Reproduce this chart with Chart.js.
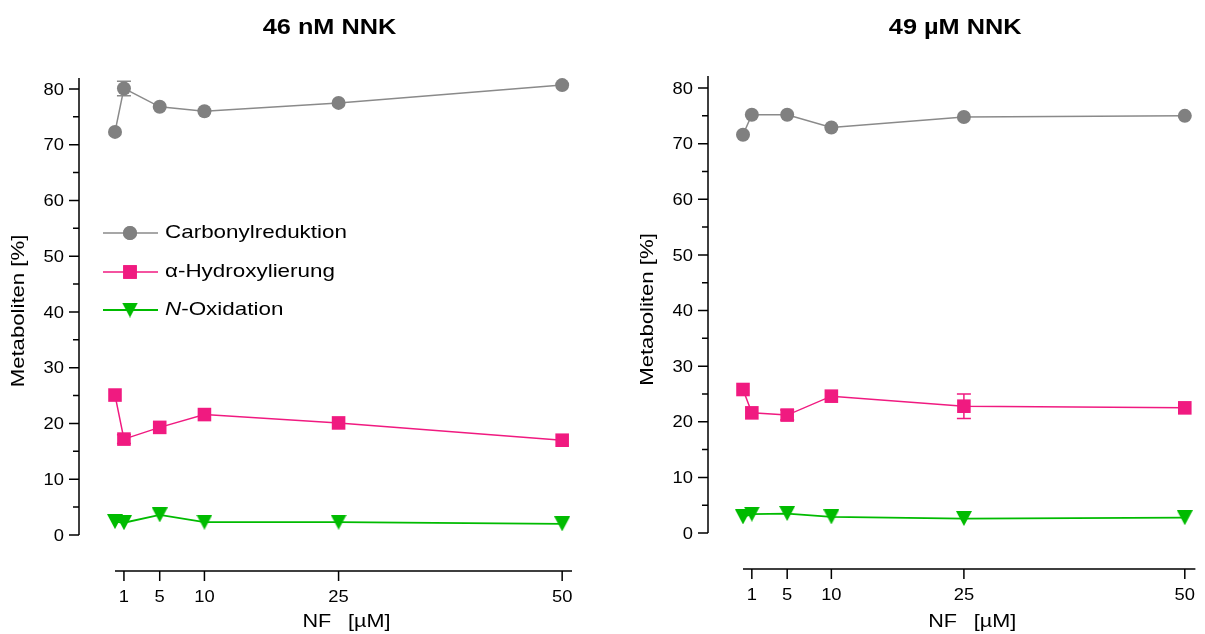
<!DOCTYPE html>
<html><head><meta charset="utf-8">
<script src="https://cdn.jsdelivr.net/npm/chart.js@4.4.1/dist/chart.umd.min.js"></script>
<style>
html,body{margin:0;padding:0;background:#fff;}
#wrap{position:relative;width:1205px;height:634px;background:#fff;}
.panel{position:absolute;top:0;height:634px;}
</style></head><body>
<div id="wrap">
<div class="panel" style="left:0;width:600px"><canvas id="c1" width="600" height="634"></canvas></div>
<div class="panel" style="left:600px;width:605px"><canvas id="c2" width="605" height="634"></canvas></div>
</div>
<script>
// ---------- data ----------
const nfConc = [0, 1, 5, 10, 25, 50];
const xTickValues = [1, 5, 10, 25, 50];
const yTickValues = [0, 10, 20, 30, 40, 50, 60, 70, 80];
const yMinorTickValues = [5, 15, 25, 35, 45, 55, 65, 75];
const seriesNames = ['Carbonylreduktion', 'α-Hydroxylierung', 'N-Oxidation'];
const panelTitles = ['46 nM NNK', '49 µM NNK'];
const xAxisTitle = 'NF [µM]';
const yAxisTitle = 'Metaboliten [%]';

// 46 nM NNK
const carbonyl46 = [72.3, 80.1, 76.8, 76.0, 77.5, 80.7];
const carbonyl46Err = [0, 1.3, 0, 0, 0, 0];
const alpha46 = [25.1, 17.2, 19.3, 21.6, 20.1, 17.0];
const alpha46Err = [0, 0.8, 0, 0, 0, 0];
const nox46 = [2.4, 2.2, 3.6, 2.3, 2.3, 2.0];
const nox46Err = [0, 0, 0, 0, 0, 0];

// 49 µM NNK
const carbonyl49 = [71.6, 75.2, 75.2, 72.9, 74.8, 75.0];
const carbonyl49Err = [0, 0, 0, 0, 0, 0];
const alpha49 = [25.8, 21.6, 21.2, 24.6, 22.8, 22.5];
const alpha49Err = [0, 0, 0.9, 0, 2.2, 0];
const nox49 = [2.9, 3.4, 3.5, 2.9, 2.6, 2.75];
const nox49Err = [0, 0, 0, 0, 0, 0];

// ---------- styles ----------
const FONT = '"Liberation Sans", Arial, Helvetica, sans-serif';
const colGray = '#808080', colGrayLine = '#8a8a8a';
const colPink = '#f01a80';
const colGreen = '#00bb00';

function triCanvas(color, w, h) {
  const c = document.createElement('canvas'); c.width = w; c.height = h;
  const g = c.getContext('2d'); g.fillStyle = color;
  g.beginPath(); g.moveTo(0, 0); g.lineTo(w, 0); g.lineTo(w / 2, h); g.closePath(); g.fill();
  return c;
}
const triGreen = triCanvas(colGreen, 16, 15);

function txt(ctx, s, x, y, o) {
  ctx.save();
  ctx.translate(x, y);
  if (o.rot) ctx.rotate(o.rot);
  ctx.scale(o.sx || 1, 1);
  ctx.font = o.font; ctx.textAlign = o.align || 'center'; ctx.textBaseline = o.baseline || 'middle';
  ctx.fillStyle = o.color || '#000';
  if (o.gap) {
    // draw words with a wider inter-word gap (centered)
    const words = s.split(' ');
    const ws = words.map(w => ctx.measureText(w).width);
    const total = ws.reduce((a, b) => a + b, 0) + o.gap * (words.length - 1);
    let cx = -total / 2;
    ctx.textAlign = 'left';
    words.forEach((w, i) => { ctx.fillText(w, cx, 0); cx += ws[i] + o.gap; });
  } else {
    ctx.fillText(s, 0, 0);
  }
  ctx.restore();
}

const decor = {
  id: 'decor',
  beforeDatasetsDraw(chart) {
    const ctx = chart.ctx, xs = chart.scales.x, ys = chart.scales.y;
    chart.data.datasets.forEach(ds => {
      if (!ds.errors) return;
      ctx.save(); ctx.strokeStyle = ds.borderColor; ctx.lineWidth = 1.5;
      ds.data.forEach((p, i) => {
        const e = ds.errors[i]; if (!e) return;
        const px = xs.getPixelForValue(p.x);
        const t = ys.getPixelForValue(p.y + e), b = ys.getPixelForValue(p.y - e);
        ctx.beginPath();
        ctx.moveTo(px, t); ctx.lineTo(px, b);
        ctx.moveTo(px - 7, t); ctx.lineTo(px + 7, t);
        ctx.moveTo(px - 7, b); ctx.lineTo(px + 7, b);
        ctx.stroke();
      });
      ctx.restore();
    });
  },
  afterDraw(chart, args, opts) {
    const ctx = chart.ctx, xs = chart.scales.x, ys = chart.scales.y, ca = chart.chartArea;
    const axX = ca.left - opts.yAxisGap;
    const axY = ca.bottom;
    ctx.save();
    ctx.strokeStyle = '#000'; ctx.lineWidth = 1.5; ctx.lineCap = 'butt';
    // y axis
    ctx.beginPath();
    ctx.moveTo(axX, ca.top); ctx.lineTo(axX, ys.getPixelForValue(0));
    yTickValues.forEach(v => { const py = ys.getPixelForValue(v); ctx.moveTo(axX - 10, py); ctx.lineTo(axX, py); });
    yMinorTickValues.forEach(v => { const py = ys.getPixelForValue(v); ctx.moveTo(axX - 6, py); ctx.lineTo(axX, py); });
    // x axis
    ctx.moveTo(xs.getPixelForValue(0), axY); ctx.lineTo(ca.right, axY);
    xTickValues.forEach(v => { const px = xs.getPixelForValue(v); ctx.moveTo(px, axY); ctx.lineTo(px, axY + 10); });
    ctx.stroke();
    ctx.restore();
    const tickFont = '17px ' + FONT;
    yTickValues.forEach(v => txt(ctx, String(v), axX - 15, ys.getPixelForValue(v) + 1, {font: tickFont, align: 'right', sx: 1.08}));
    xTickValues.forEach(v => txt(ctx, String(v), xs.getPixelForValue(v), axY + 26, {font: tickFont, sx: 1.08}));
    // axis titles
    const cx = (ca.left + ca.right) / 2;
    txt(ctx, xAxisTitle, cx + 3, 622, {font: '18px ' + FONT, sx: 1.2, gap: 14});
    txt(ctx, yAxisTitle, axX - 60, ys.getPixelForValue(40) - 1, {font: '18px ' + FONT, sx: 1.23, rot: -Math.PI / 2});
    // panel title
    txt(ctx, opts.title, cx - 14, 28, {font: 'bold 22px ' + FONT, sx: 1.15});
    // legend
    if (opts.legend) {
      const rows = [233, 272, 310];
      const lf = '19px ' + FONT, sx = 1.18;
      chart.data.datasets.forEach((ds, i) => {
        const y = rows[i];
        ctx.save();
        ctx.strokeStyle = ds.borderColor; ctx.lineWidth = ds.borderWidth;
        ctx.beginPath(); ctx.moveTo(103, y); ctx.lineTo(158, y); ctx.stroke();
        ctx.restore();
        ctx.save(); ctx.fillStyle = ds.pointBackgroundColor;
        if (typeof ds.pointStyle === 'string') {
          ctx.beginPath();
          Chart.helpers.drawPoint(ctx, {pointStyle: ds.pointStyle, radius: ds.pointRadius, borderWidth: 0, rotation: 0}, 130, y);
          ctx.fill();
        } else {
          const im = ds.pointStyle;
          ctx.drawImage(im, 130 - im.width / 2, y - im.height / 2);
        }
        ctx.restore();
        const name = seriesNames[i];
        if (name.startsWith('N-')) {
          ctx.save(); ctx.font = 'italic ' + lf; const w = ctx.measureText('N').width * sx; ctx.restore();
          txt(ctx, 'N', 165, y, {font: 'italic ' + lf, align: 'left', sx});
          txt(ctx, name.slice(1), 165 + w, y, {font: lf, align: 'left', sx});
        } else {
          txt(ctx, name, 165, y, {font: lf, align: 'left', sx});
        }
      });
    }
  }
};

function mk(vals) { return nfConc.map((x, i) => ({x, y: vals[i]})); }

function makeChart(id, p) {
  const datasets = [
    {label: seriesNames[0], data: mk(p.c), errors: p.cE, borderColor: colGrayLine, borderWidth: 1.5,
     pointStyle: 'circle', pointRadius: 7, pointBackgroundColor: colGray, pointBorderWidth: 0, backgroundColor: colGray},
    {label: seriesNames[1], data: mk(p.a), errors: p.aE, borderColor: colPink, borderWidth: 1.5,
     pointStyle: 'rect', pointRadius: 9.6, pointBackgroundColor: colPink, pointBorderWidth: 0, backgroundColor: colPink},
    {label: seriesNames[2], data: mk(p.n), errors: p.nE, borderColor: colGreen, borderWidth: 1.8,
     pointStyle: triGreen, pointRadius: 8, pointBackgroundColor: colGreen, pointBorderWidth: 0, backgroundColor: colGreen}
  ];
  datasets.forEach(d => { d.tension = 0; d.clip = false; d.fill = false; d.pointHoverRadius = d.pointRadius; });
  return new Chart(document.getElementById(id), {
    type: 'line',
    data: {datasets},
    options: {
      responsive: false, animation: false, events: [],
      layout: {padding: p.pad},
      scales: {
        x: {type: 'linear', min: 0, max: p.xMax, display: false},
        y: {type: 'linear', min: p.yMin, max: p.yMax, display: false}
      },
      plugins: {legend: {display: false}, tooltip: {enabled: false},
        decor: {title: p.title, legend: p.legend, yAxisGap: p.gap}}
    },
    plugins: [decor]
  });
}

makeChart('c1', {c: carbonyl46, cE: carbonyl46Err, a: alpha46, aE: alpha46Err, n: nox46, nE: nox46Err,
  pad: {left: 115, right: 28, top: 78, bottom: 63}, xMax: 51.1, yMin: -6.46, yMax: 81.97,
  title: panelTitles[0], legend: true, gap: 36});
makeChart('c2', {c: carbonyl49, cE: carbonyl49Err, a: alpha49, aE: alpha49Err, n: nox49, nE: nox49Err,
  pad: {left: 143, right: 3, top: 76, bottom: 65}, xMax: 51.2, yMin: -6.47, yMax: 82.16,
  title: panelTitles[1], legend: false, gap: 35});
</script>
</body></html>
